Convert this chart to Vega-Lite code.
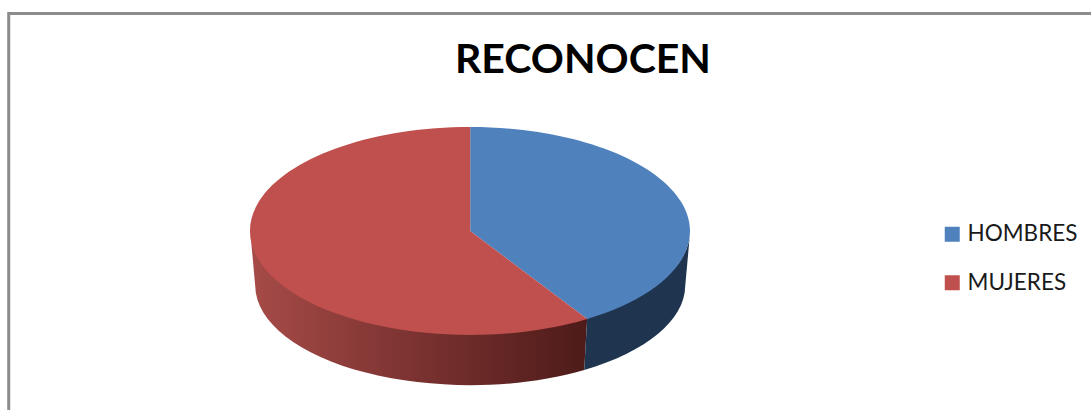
{
  "$schema": "https://vega.github.io/schema/vega-lite/v6.json",
  "width": 1091,
  "height": 410,
  "padding": 0,
  "autosize": {"type": "none"},
  "background": "white",
  "title": {"text": "RECONOCEN", "font": "Lato", "fontWeight": "bold", "fontSize": 41, "color": "#000000", "anchor": "start", "frame": "group", "orient": "top", "dx": 455, "dy": 114, "offset": 0, "baseline": "alphabetic"},
  "view": {"stroke": null},
  "config": {"legend": {"symbolType": "square"}},
  "data": {"values": [
    {"sexo": "HOMBRES", "porcentaje": 43},
    {"sexo": "MUJERES", "porcentaje": 57}
  ]},
  "layer": [
    {
      "data": {"values": [{"marco": "borde"}]},
      "mark": {"type": "rect", "fill": null, "stroke": "#8c8c8c", "strokeWidth": 3},
      "encoding": {
        "x": {"datum": 0.008, "type": "quantitative", "scale": {"domain": [0, 1]}, "axis": null},
        "x2": {"datum": 1.1},
        "y": {"datum": 0.967, "type": "quantitative", "scale": {"domain": [0, 1]}, "axis": null},
        "y2": {"datum": -0.2}
      }
    },
    {
      "transform": [{"filter": "datum.sexo === 'MUJERES'"}],
      "mark": {"type": "point", "filled": true, "opacity": 1, "size": 4, "strokeWidth": 0,
        "fill": {"x1": 0, "y1": 0, "x2": 1, "y2": 0, "gradient": "linear", "stops": [
          {"offset": 0, "color": "#a64b48"},
          {"offset": 0.5, "color": "#7a3230"},
          {"offset": 1, "color": "#4d1b19"}
        ]},
        "shape": "M-220,0 A220,104 0 0 0 117,87 L114,139 A215,100 0 0 1 -215,55 Z"},
      "encoding": {
        "x": {"datum": 0.431, "type": "quantitative", "scale": {"domain": [0, 1]}, "axis": null},
        "y": {"datum": 0.4366, "type": "quantitative", "scale": {"domain": [0, 1]}, "axis": null}
      }
    },
    {
      "transform": [{"filter": "datum.sexo === 'HOMBRES'"}],
      "mark": {"type": "point", "filled": true, "opacity": 1, "size": 4, "strokeWidth": 0, "fill": "#1f344f",
        "shape": "M117,87 A220,104 0 0 0 220,0 L215,55 A215,100 0 0 1 114,139 Z"},
      "encoding": {
        "x": {"datum": 0.431, "type": "quantitative", "scale": {"domain": [0, 1]}, "axis": null},
        "y": {"datum": 0.4366, "type": "quantitative", "scale": {"domain": [0, 1]}, "axis": null}
      }
    },
    {
      "mark": {"type": "point", "filled": true, "opacity": 1, "size": 4, "strokeWidth": 0},
      "encoding": {
        "x": {"datum": 0.431, "type": "quantitative", "scale": {"domain": [0, 1]}, "axis": null},
        "y": {"datum": 0.4366, "type": "quantitative", "scale": {"domain": [0, 1]}, "axis": null},
        "shape": {"field": "porcentaje", "type": "nominal", "legend": null, "scale": {"domain": [43, 57], "range": [
          "M0,0 L0,-104 A220,104 0 0 1 117,88 Z",
          "M0,0 L117,88 A220,104 0 1 1 0,-104 Z"
        ]}},
        "color": {"field": "sexo", "type": "nominal", "scale": {"domain": ["HOMBRES", "MUJERES"], "range": ["#4f81bd", "#c0504d"]},
          "legend": {"title": null, "orient": "none", "legendX": 941, "legendY": 223, "symbolType": "square", "symbolSize": 225, "symbolStrokeWidth": 0, "labelFont": "Lato", "labelFontSize": 22.5, "labelColor": "#1a1a1a", "labelOffset": 4, "rowPadding": 25.5, "labelLimit": 200, "symbolOpacity": 1}}
      }
    }
  ]
}
